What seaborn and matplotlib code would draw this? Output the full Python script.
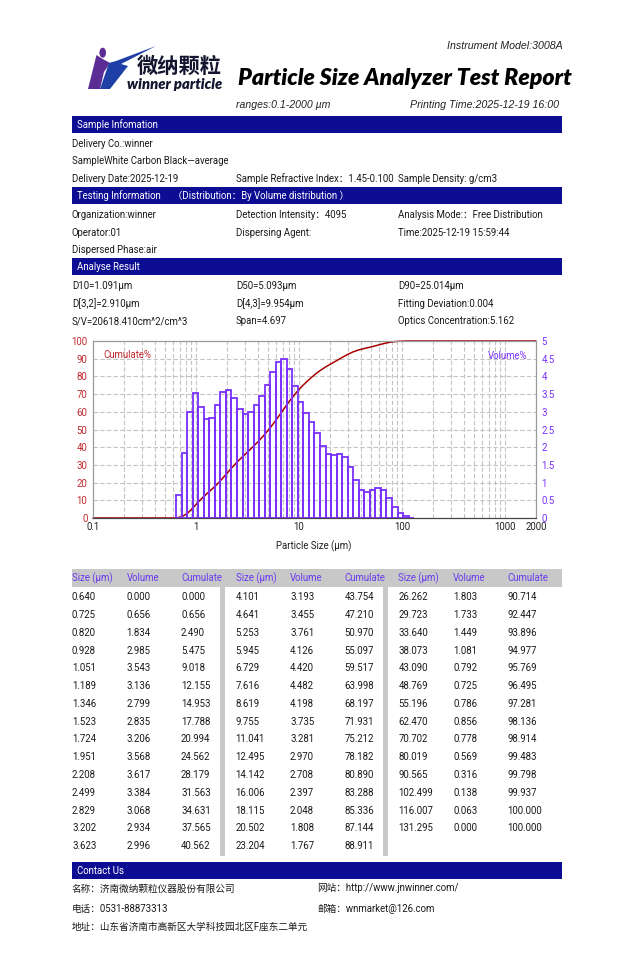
import numpy as np
import matplotlib
matplotlib.use("Agg")
import matplotlib.pyplot as plt
from matplotlib.patches import Rectangle, Polygon, Circle
from matplotlib.ticker import LogLocator, NullFormatter, FixedLocator
import seaborn as sns

# ---------------- data ----------------
sizes = [0.640, 0.725, 0.820, 0.928, 1.051, 1.189, 1.346, 1.523, 1.724, 1.951,
         2.208, 2.499, 2.829, 3.202, 3.623, 4.101, 4.641, 5.253, 5.945, 6.729,
         7.616, 8.619, 9.755, 11.041, 12.495, 14.142, 16.006, 18.115, 20.502, 23.204,
         26.262, 29.723, 33.640, 38.073, 43.090, 48.769, 55.196, 62.470, 70.702, 80.019,
         90.565, 102.499, 116.007, 131.295]
volume = [0.000, 0.656, 1.834, 2.985, 3.543, 3.136, 2.799, 2.835, 3.206, 3.568,
          3.617, 3.384, 3.068, 2.934, 2.996, 3.193, 3.455, 3.761, 4.126, 4.420,
          4.482, 4.198, 3.735, 3.281, 2.970, 2.708, 2.397, 2.048, 1.808, 1.767,
          1.803, 1.733, 1.449, 1.081, 0.792, 0.725, 0.786, 0.856, 0.778, 0.569,
          0.316, 0.138, 0.063, 0.000]
cumulate = [0.000, 0.656, 2.490, 5.475, 9.018, 12.155, 14.953, 17.788, 20.994, 24.562,
            28.179, 31.563, 34.631, 37.565, 40.562, 43.754, 47.210, 50.970, 55.097, 59.517,
            63.998, 68.197, 71.931, 75.212, 78.182, 80.890, 83.288, 85.336, 87.144, 88.911,
            90.714, 92.447, 93.896, 94.977, 95.769, 96.495, 97.281, 98.136, 98.914, 99.483,
            99.798, 99.937, 100.000, 100.000]
range_min, range_max = 0.1, 2000
x_ticks = [0.1, 1, 10, 100, 1000, 2000]
x_tick_labels = ["0.1", "1", "10", "100", "1000", "2000"]
cum_ticks = [0, 10, 20, 30, 40, 50, 60, 70, 80, 90, 100]
vol_ticks = [0, 0.5, 1, 1.5, 2, 2.5, 3, 3.5, 4, 4.5, 5]
vol_tick_labels = ["0", "0.5", "1", "1.5", "2", "2.5", "3", "3.5", "4", "4.5", "5"]

sample_rows = [["Delivery Co.:winner", "", ""],
               ["SampleWhite Carbon Black\u2014average", "", ""],
               ["Delivery Date:2025-12-19", "Sample Refractive Index\uff1a1.45-0.100", "Sample Density: g/cm3"]]
testing_rows = [["Organization:winner", "Detection Intensity\uff1a4095", "Analysis Mode:\uff1aFree Distribution"],
                ["Operator:01", "Dispersing Agent:", "Time:2025-12-19 15:59:44"],
                ["Dispersed Phase:air", "", ""]]
result_rows = [["D10=1.091\u00b5m", "D50=5.093\u00b5m", "D90=25.014\u00b5m"],
               ["D[3,2]=2.910\u00b5m", "D[4,3]=9.954\u00b5m", "Fitting Deviation:0.004"],
               ["S/V=20618.410cm^2/cm^3", "Span=4.697", "Optics Concentration:5.162"]]
contact_rows = [["\u540d\u79f0\uff1a\u6d4e\u5357\u5fae\u7eb3\u9897\u7c92\u4eea\u5668\u80a1\u4efd\u6709\u9650\u516c\u53f8", "\u7f51\u7ad9\uff1ahttp://www.jnwinner.com/"],
                ["\u7535\u8bdd\uff1a0531-88873313", "\u90ae\u7bb1\uff1awnmarket@126.com"],
                ["\u5730\u5740\uff1a\u5c71\u4e1c\u7701\u6d4e\u5357\u5e02\u9ad8\u65b0\u533a\u5927\u5b66\u79d1\u6280\u56ed\u5317\u533aF\u5ea7\u4e1c\u4e8c\u5355\u5143", ""]]
table_headers = ["Size (\u00b5m)", "Volume", "Cumulate"]

# ---------------- style ----------------
W, H = 634, 960
sns.set_style("white")
plt.rcParams['font.family'] = ['Roboto', 'Noto Sans CJK SC', 'DejaVu Sans']
fig = plt.figure(figsize=(W / 100, H / 100), dpi=100)
renderer = fig.canvas.get_renderer()

BAND = '#0D0D93'
TXT = '#1a1a1a'
PURPLE = '#7B30FF'
RED = '#A80000'
TICKRED = '#C0282D'
HDR = '#6A3BEF'
ITAL = ['Liberation Sans', 'DejaVu Sans']
HEAVY = ['Lato', 'DejaVu Sans']


def fx(x):
    return x / W


def fy(y):
    return 1 - y / H


def fit_size(s, target_px, base=10, **kw):
    t = fig.text(0, 0, s, fontsize=base, **kw)
    w = t.get_window_extent(renderer).width
    t.remove()
    return base * target_px / w


def txt(x, y, s, size, color=TXT, ha='left', **kw):
    # y is the visual centre of the capitals; place the baseline below it
    base_y = y + 0.36 * size * 100 / 72
    return fig.text(fx(x), fy(base_y), s, fontsize=size, color=color, ha=ha, va='baseline', **kw)


def rect(x0, y0, x1, y1, color, z=0):
    fig.patches.append(Rectangle((fx(x0), fy(y1)), fx(x1) - fx(x0), fy(y0) - fy(y1),
                                 transform=fig.transFigure, facecolor=color,
                                 edgecolor='none', zorder=z))


body = fit_size(sample_rows[1][0], 156.5)

# ---------------- header ----------------
s = "Instrument Model:3008A"
txt(563, 45, s, fit_size(s, 116, family=ITAL, style='italic'), color='#222222', ha='right',
    family=ITAL, style='italic')
title = "Particle Size Analyzer Test Report"
tsize = fit_size(title, 334, family=HEAVY, weight='heavy', style='italic')
txt(238, 77, title, tsize, color='#000000', family=HEAVY, weight='heavy', style='italic')
s = "ranges:0.1-2000 \u00b5m"
txt(236, 104, s, fit_size(s, 95, family=ITAL, style='italic'), color='#222222', family=ITAL, style='italic')
s = "Printing Time:2025-12-19 16:00"
txt(559, 104, s, fit_size(s, 149, family=ITAL, style='italic'), color='#222222', ha='right',
    family=ITAL, style='italic')

# logo (decorative shapes)
fig.patches.append(Polygon([(fx(88), fy(89)), (fx(96.5), fy(55)), (fx(101), fy(58)),
                            (fx(110), fy(63)), (fx(104), fy(72)), (fx(100), fy(89))],
                           closed=True, transform=fig.transFigure, facecolor='#5B2C94', edgecolor='none'))
fig.patches.append(Polygon([(fx(100), fy(89)), (fx(109), fy(63)), (fx(116), fy(61)),
                            (fx(156), fy(46)), (fx(121), fy(64)), (fx(128), fy(66)),
                            (fx(110), fy(89))],
                           closed=True, transform=fig.transFigure, facecolor='#1E3FA5', edgecolor='none'))
fig.patches.append(Circle((fx(102.7), fy(52.7)), 3.3 / W, transform=fig.transFigure,
                          facecolor='#5B2C94', edgecolor='none'))
s = "\u5fae\u7eb3\u9897\u7c92"
csz = fit_size(s, 85, family=['Noto Sans CJK SC'], weight='black')
fig.text(fx(179.5), fy(66.5), s, fontsize=csz, color='#151530', ha='center', va='center',
         family=['Noto Sans CJK SC'], weight='black')
s = "winner particle"
txt(174.5, 83.5, s, fit_size(s, 95, family=HEAVY, weight='heavy', style='italic'),
    color='#151530', ha='center', family=HEAVY, weight='heavy', style='italic')

# ---------------- info sections ----------------
cols = [72, 236, 398]


def section(y0, y1, label, rows, row_ys):
    rect(72, y0, 562, y1, BAND)
    txt(77, (y0 + y1) / 2, label, body, color='white')
    for r, yy in zip(rows, row_ys):
        for c, s in zip(cols, r):
            if s:
                txt(c, yy, s, body)


section(116, 133, "Sample Infomation", sample_rows, [143.3, 161, 178.7])
section(187, 204, "Testing Information \u3000\uff08Distribution\uff1aBy Volume distribution \uff09",
        testing_rows, [214.3, 232.3, 250])
section(258, 275, "Analyse Result", result_rows, [285.7, 303.3, 321])

# ---------------- chart ----------------
ax = fig.add_axes([fx(93), fy(518), fx(536) - fx(93), fy(341) - fy(518)])
ax.set_xscale('log')
ax2 = ax.twinx()

edges_log = [float(v) for v in np.log10(sizes)]
mids = list(np.sqrt(np.array(sizes[:-1]) * np.array(sizes[1:])))
sns.histplot(x=mids, weights=volume[1:], bins=edges_log, log_scale=True, fill=False,
             color=PURPLE, linewidth=1.3, ax=ax2, stat='count')

line_x = [range_min] + sizes + [range_max]
line_y = [0.0] + cumulate + [100.0]
sns.lineplot(x=line_x, y=line_y, ax=ax, color=RED, linewidth=1.1, zorder=1, clip_on=False)

ax.set_xlim(range_min, range_max)
ax.set_ylim(0, 100)
ax2.set_ylim(0, 5)
ax.xaxis.set_major_locator(FixedLocator(x_ticks))
ax.set_xticklabels(x_tick_labels)
ax.xaxis.set_minor_locator(LogLocator(base=10, subs=np.arange(2, 10)))
ax.xaxis.set_minor_formatter(NullFormatter())
ax.set_yticks(cum_ticks)
ax.set_yticklabels([str(v) for v in cum_ticks])
ax2.set_yticks(vol_ticks)
ax2.set_yticklabels(vol_tick_labels)
ax.set_xlabel("")
ax.set_ylabel("")
ax2.set_xlabel("")
ax2.set_ylabel("")
ax.tick_params(axis='x', which='both', length=0, labelsize=body, labelcolor='#222222', pad=3)
ax.tick_params(axis='y', length=0, labelsize=body, labelcolor=TICKRED, pad=4)
ax2.tick_params(axis='y', length=0, labelsize=body, labelcolor=PURPLE, pad=4)
ax.grid(True, which='both', axis='x', ls=(0, (4, 2)), color='#C4C4C4', lw=0.8)
ax.grid(True, which='major', axis='y', ls=(0, (4, 2)), color='#C4C4C4', lw=0.8)
ax.set_axisbelow(True)
for a in (ax, ax2):
    for sp in a.spines.values():
        sp.set_color('#9A9A9A')
        sp.set_linewidth(0.8)
    a.spines['bottom'].set_color('#444444')

txt(103, 355, "Cumulate%", body, color=TICKRED)
txt(527, 356, "Volume%", body, color=PURPLE, ha='right')
txt(314, 546, "Particle Size (\u00b5m)", body, color='#222222', ha='center')

# ---------------- table ----------------
rect(72, 569, 562, 586.5, '#C8C8C8')
rect(219.5, 586.5, 224.5, 856, '#C8C8C8')
rect(383, 586.5, 388, 856, '#C8C8C8')
group_x = [72, 235.5, 398.5]
col_off = [0, 54.5, 109]
for g, gx in enumerate(group_x):
    for h, off in zip(table_headers, col_off):
        txt(gx + off, 578, h, body, color=HDR)
n_per = 15
row_y0, row_dy = 596.7, 17.79
for i, (s, v, c) in enumerate(zip(sizes, volume, cumulate)):
    g, r = divmod(i, n_per)
    yy = row_y0 + r * row_dy
    gx = group_x[g]
    txt(gx + col_off[0], yy, f"{s:.3f}", body)
    txt(gx + col_off[1], yy, f"{v:.3f}", body)
    txt(gx + col_off[2], yy, f"{c:.3f}", body)

# ---------------- contact ----------------
rect(72, 862, 562, 879, BAND)
txt(77, 870.5, "Contact Us", body, color='white')
for row, yy in zip(contact_rows, [888, 908.3, 926.7]):
    for c, s in zip([72, 317], row):
        if s:
            txt(c, yy, s, body)

fig.savefig("out.png", dpi=100, facecolor='white')
